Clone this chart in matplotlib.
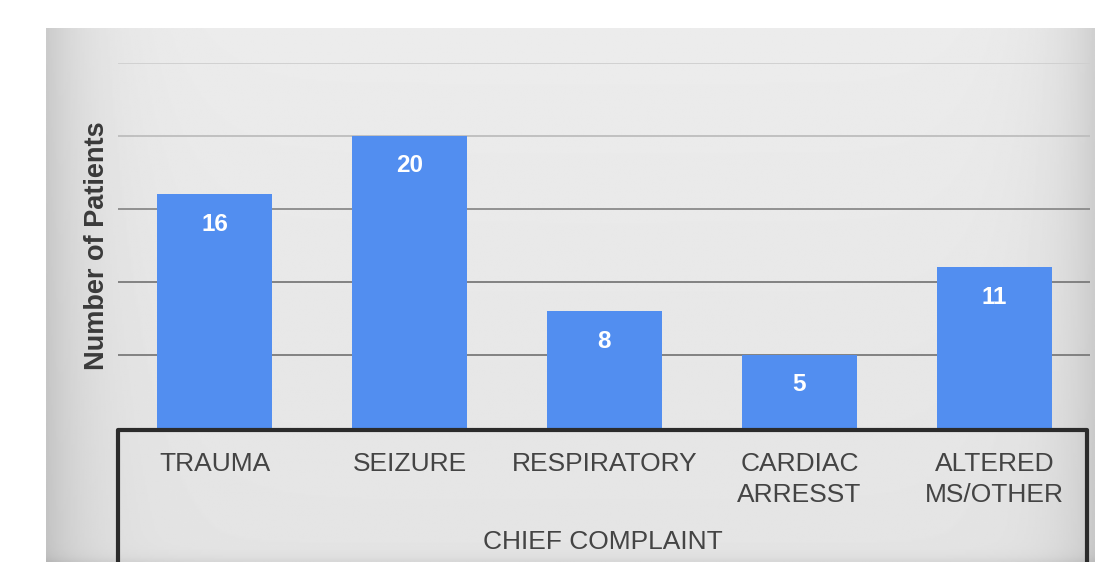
import matplotlib.pyplot as plt
import numpy as np
from matplotlib.lines import Line2D

plt.rcParams['font.family'] = ['Liberation Sans', 'DejaVu Sans']

categories = ['TRAUMA', 'SEIZURE', 'RESPIRATORY', 'CARDIAC\nARRESST', 'ALTERED\nMS/OTHER']
patients = [16, 20, 8, 5, 11]
yticks = [5, 10, 15, 20, 25]

W, H = 1097, 562
fig = plt.figure(figsize=(W / 100, H / 100), dpi=100)
fig.patch.set_facecolor('white')

# grey gradient panel behind everything
bg = fig.add_axes([46 / W, 0, (1095 - 46) / W, (562 - 28) / H], zorder=0)
xs = np.linspace(0, 1, 600)
shade = 0.925 - 0.13 * np.exp(-xs / 0.04) - 0.11 * np.exp(-(1 - xs) / 0.035)
ys = np.linspace(0, 1, 300)[:, None]
img = shade[None, :] - 0.03 * ys - 0.05 * np.exp(-(1 - ys) / 0.01)
bg.imshow(img, cmap='gray', vmin=0, vmax=1, aspect='auto', extent=[0, 1, 0, 1])
bg.axis('off')

ax = fig.add_axes([118 / W, (562 - 428) / H, (1090 - 118) / W, (428 - 63) / H], zorder=1)
ax.patch.set_alpha(0)
x = np.arange(len(categories))
ax.set_xlim(-0.495, 4.49)
ax.set_ylim(0, 25)

grid_colors = ['#7a7a7a', '#7a7a7a', '#8a8a8a', '#bdbdbd', '#cfcfcf']
for t, c in zip(yticks, grid_colors):
    ax.axhline(t, color=c, lw=1.3, zorder=0)

bars = ax.bar(x, patients, width=0.59, color='#528ef0', zorder=2)
for xi, v in zip(x, patients):
    ax.annotate(str(v), (xi, v), xytext=(0, -21.5), textcoords='offset points',
                ha='center', va='center', color='white', fontsize=17.5, fontweight='bold')

for s in ax.spines.values():
    s.set_visible(False)
ax.set_xticks([])
ax.set_yticks([])

# black frame around the category area
fx = [118 / W, 118 / W, 1087 / W, 1087 / W]
fy = [-0.02, (562 - 430) / H, (562 - 430) / H, -0.02]
fig.add_artist(Line2D(fx, fy, color='#2b2b2b', lw=3, zorder=3))

for xi, lab in zip(x, categories):
    ax.annotate(lab, (xi, 0), xytext=(0, -17), textcoords='offset points',
                ha='center', va='top', fontsize=19, color='#444444', linespacing=1.4)

fig.text(603 / W, (562 - 542) / H, 'CHIEF COMPLAINT', ha='center', va='center',
         fontsize=19, color='#444444')
fig.text(97 / W, (562 - 246) / H, 'Number of Patients', ha='center', va='center',
         rotation=90, fontsize=19.5, fontweight='bold', color='#3a3a3a')

fig.savefig('out.png', dpi=100)
